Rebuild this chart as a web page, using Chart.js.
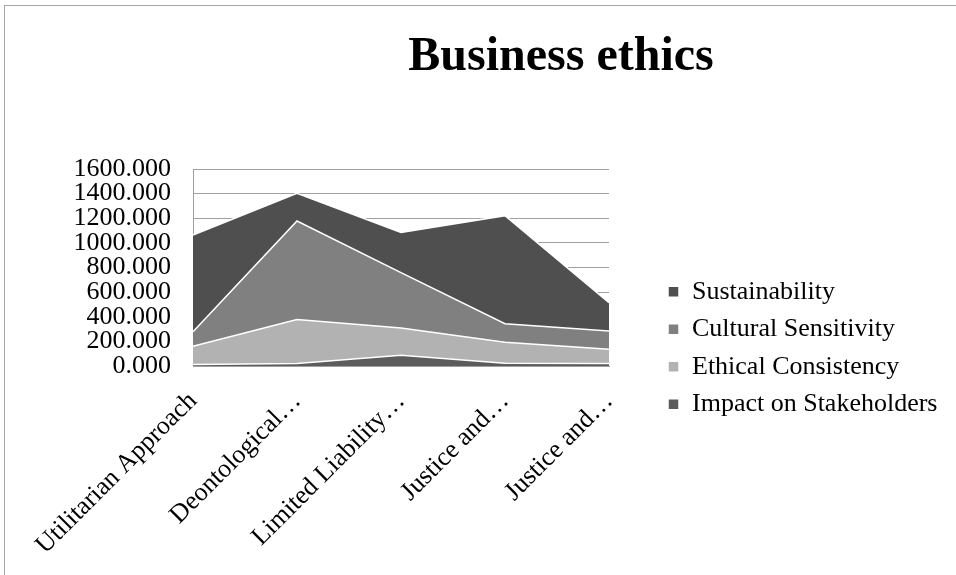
<!DOCTYPE html>
<html lang="en">
<head>
    <meta charset="UTF-8">
    <title>Business ethics</title>
    <script src="https://cdn.jsdelivr.net/npm/chart.js"></script>
    <style>
        body {
            margin: 0;
            overflow: hidden;
            background: #ffffff;
        }
        #frame {
            position: absolute;
            left: 4px;
            top: 5px;
            width: 1000px;
            height: 700px;
            border: 1px solid #a6a6a6;
        }
        #chart {
            position: absolute;
            left: 0;
            top: 0;
        }
    </style>
</head>
<body>
    <div id="frame"></div>
    <canvas id="chart" width="956" height="575"></canvas>

    <script>
        // Données
        const categories = ['Utilitarian Approach', 'Deontological\u2026', 'Limited Liability\u2026', 'Justice and\u2026', 'Justice and\u2026'];
        const impactOnStakeholders = [12, 20, 88, 22, 20];
        const ethicalConsistency = [148, 358, 220, 170, 116];
        const culturalSensitivity = [119, 800, 450, 152, 148];
        const sustainability = [785, 224, 327, 877, 230];
        const yTicks = [0, 200, 400, 600, 800, 1000, 1200, 1400, 1600];

        const serif = 'Liberation Serif';

        // Titre dessiné à la main pour le décaler comme dans l'original
        const titlePlugin = {
            id: 'offsetTitle',
            afterDraw(chart) {
                const ctx = chart.ctx;
                ctx.save();
                ctx.font = 'bold 48px "' + serif + '"';
                ctx.fillStyle = '#000000';
                ctx.textAlign = 'center';
                ctx.textBaseline = 'alphabetic';
                ctx.fillText('Business ethics', 561, 70);
                ctx.restore();
            }
        };

        // La légende est trop large pour la place que Chart.js lui donne : on la replace
        const legendPlacer = {
            id: 'legendPlacer',
            afterLayout(chart) {
                const lg = chart.legend;
                lg.maxWidth = 400;
                lg.fit();
                lg.left = 656.5;
                lg.right = lg.left + lg.width;
                lg.top = 169;
                lg.bottom = 527;
                lg.height = lg.bottom - lg.top;
            }
        };

        function makeSet(label, data, color, index) {
            return {
                label: label,
                data: data,
                backgroundColor: color,
                borderColor: '#ffffff',
                borderWidth: 1.5,
                pointRadius: 0,
                pointHoverRadius: 0,
                tension: 0,
                fill: index === 0 ? 'origin' : '-1'
            };
        }

        new Chart(document.getElementById('chart'), {
            type: 'line',
            data: {
                labels: categories,
                datasets: [
                    makeSet('Impact on Stakeholders', impactOnStakeholders, '#5c5c5c', 0),
                    makeSet('Ethical Consistency', ethicalConsistency, '#b2b2b2', 1),
                    makeSet('Cultural Sensitivity', culturalSensitivity, '#808080', 2),
                    makeSet('Sustainability', sustainability, '#4f4f4f', 3)
                ]
            },
            options: {
                responsive: false,
                animation: false,
                layout: {
                    padding: { top: 169, bottom: 0, left: 0, right: 8 }
                },
                plugins: {
                    title: { display: false },
                    tooltip: { enabled: false },
                    legend: {
                        position: 'right',
                        reverse: true,
                        labels: {
                            font: { family: serif, size: 26 },
                            color: '#000000',
                            boxWidth: 11,
                            boxHeight: 11,
                            padding: 11.5
                        }
                    }
                },
                scales: {
                    x: {
                        offset: false,
                        grid: { display: false },
                        border: { display: true, color: '#a0a0a0', width: 1 },
                        ticks: {
                            autoSkip: false,
                            minRotation: 45,
                            maxRotation: 45,
                            padding: 12,
                            color: '#000000',
                            font: { family: serif, size: 26 }
                        },
                        afterFit(scale) {
                            scale.height = 209;
                        }
                    },
                    y: {
                        stacked: true,
                        min: yTicks[0],
                        max: yTicks[yTicks.length - 1],
                        grid: { color: '#a0a0a0', drawTicks: false },
                        border: { display: true, color: '#a0a0a0', width: 1 },
                        ticks: {
                            autoSkip: false,
                            count: yTicks.length,
                            padding: 22,
                            color: '#000000',
                            font: { family: serif, size: 26 },
                            callback: value => value.toFixed(3)
                        },
                        afterBuildTicks(scale) {
                            scale.ticks = yTicks.map(v => ({ value: v }));
                        },
                        afterFit(scale) {
                            scale.width = 193;
                        }
                    },
                    gap: {
                        position: 'right',
                        display: true,
                        grid: { display: false },
                        border: { display: false },
                        ticks: { display: false },
                        afterFit(scale) {
                            // la zone du graphique doit finir à x = 609
                            scale.width = Math.max(0, 956 - 8 - scale.chart.legend.width - 609);
                        }
                    }
                }
            },
            plugins: [titlePlugin, legendPlacer]
        });
    </script>
</body>
</html>
